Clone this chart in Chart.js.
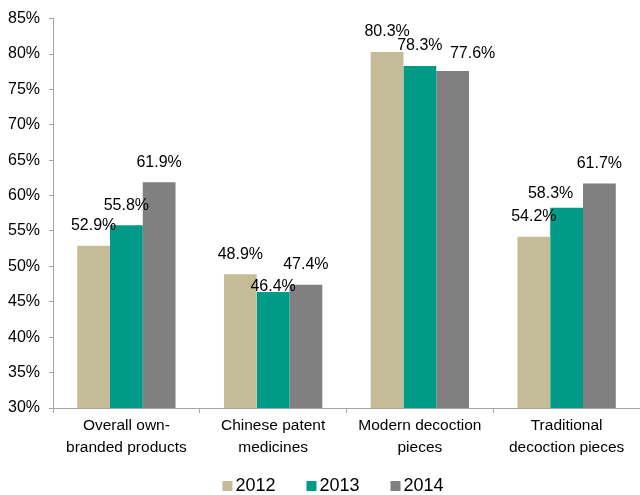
<!DOCTYPE html>
<html>
<head>
<meta charset="utf-8">
<script src="https://cdn.jsdelivr.net/npm/chart.js@4/dist/chart.umd.min.js"></script>
<style>
  html, body { margin: 0; padding: 0; background: #ffffff; }
  #wrap { width: 640px; height: 495px; }
</style>
</head>
<body>
<div id="wrap"><canvas id="chart" width="640" height="495"></canvas></div>
<script>
// Product categories (two-line axis labels)
const categories = [
  ["Overall own-", "branded products"],
  ["Chinese patent", "medicines"],
  ["Modern decoction", "pieces"],
  ["Traditional", "decoction pieces"]
];
const years = ["2012", "2013", "2014"];

// Share per category, in percent
const share2012 = [52.9, 48.9, 80.3, 54.2];
const share2013 = [55.8, 46.4, 78.3, 58.3];
const share2014 = [61.9, 47.4, 77.6, 61.7];

// Value axis range and step
const yMin = 30;
const yMax = 85;
const yStep = 5;

const FONT = "'Liberation Sans', Arial, sans-serif";
const AXIS_GREY = "#A6A6A6";

// Writes each bar's value just above it; a few labels are nudged to avoid crowding
const valueLabels = {
  id: "valueLabels",
  afterDatasetsDraw(chart, args, opts) {
    const ctx = chart.ctx;
    ctx.save();
    ctx.font = opts.size + "px " + FONT;
    ctx.fillStyle = opts.color;
    ctx.textAlign = "center";
    ctx.textBaseline = "middle";
    chart.data.datasets.forEach((ds, di) => {
      const meta = chart.getDatasetMeta(di);
      meta.data.forEach((bar, i) => {
        const nudge = opts.nudge[di + ":" + i] || [0, 0];
        ctx.fillText(ds.data[i].toFixed(1) + "%", bar.x + nudge[0], bar.y - opts.gap + nudge[1]);
      });
    });
    ctx.restore();
  }
};

// Compact legend row under the axis: small square swatch, tight gap, year text
const yearLegend = {
  id: "yearLegend",
  afterDraw(chart, args, opts) {
    const ctx = chart.ctx;
    ctx.save();
    ctx.font = opts.size + "px " + FONT;
    ctx.textBaseline = "middle";
    ctx.textAlign = "left";
    const items = chart.data.datasets.map(ds => ({
      text: ds.label,
      color: ds.backgroundColor,
      w: opts.box + opts.gap + ctx.measureText(ds.label).width
    }));
    const total = items.reduce((s, it) => s + it.w, 0) + opts.spacing * (items.length - 1);
    let x = opts.centerX - total / 2;
    items.forEach(it => {
      ctx.fillStyle = it.color;
      ctx.fillRect(x, opts.y - opts.box / 2, opts.box, opts.box);
      ctx.fillStyle = opts.color;
      ctx.fillText(it.text, x + opts.box + opts.gap, opts.y);
      x += it.w + opts.spacing;
    });
    ctx.restore();
  }
};

new Chart(document.getElementById("chart"), {
  type: "bar",
  data: {
    labels: categories,
    datasets: [
      { label: years[0], data: share2012, backgroundColor: "#C4BC96" },
      { label: years[1], data: share2013, backgroundColor: "#009A88" },
      { label: years[2], data: share2014, backgroundColor: "#808080" }
    ]
  },
  options: {
    responsive: false,
    animation: false,
    devicePixelRatio: 1,
    layout: { padding: { top: 16, right: 0, bottom: 31, left: 0 } },
    datasets: { bar: { categoryPercentage: 0.67, barPercentage: 1.0 } },
    scales: {
      x: {
        grid: { offset: true, drawOnChartArea: false, drawTicks: true, tickLength: 5, color: AXIS_GREY },
        border: { color: AXIS_GREY, width: 1 },
        ticks: {
          color: "#000000",
          font: { family: FONT, size: 15.5, lineHeight: 1.42 },
          padding: 2,
          maxRotation: 0,
          autoSkip: false
        },
        afterFit(scale) { scale.height = 56; }
      },
      y: {
        min: yMin,
        max: yMax,
        ticks: {
          stepSize: yStep,
          color: "#000000",
          font: { family: FONT, size: 16 },
          padding: 9,
          callback: v => v + "%"
        },
        grid: { drawOnChartArea: false, drawTicks: true, tickLength: 4, color: AXIS_GREY },
        border: { color: AXIS_GREY, width: 1 },
        afterFit(scale) { scale.width = 53; }
      }
    },
    plugins: {
      legend: { display: false },
      tooltip: { enabled: false },
      valueLabels: {
        size: 16,
        color: "#000000",
        gap: 20,
        nudge: { "1:1": [0, 15], "1:3": [-16, 6], "2:2": [20, 3] }
      },
      yearLegend: {
        size: 18,
        color: "#000000",
        box: 10,
        gap: 3,
        spacing: 31,
        centerX: 333,
        y: 486
      }
    }
  },
  plugins: [valueLabels, yearLegend]
});
</script>
</body>
</html>
